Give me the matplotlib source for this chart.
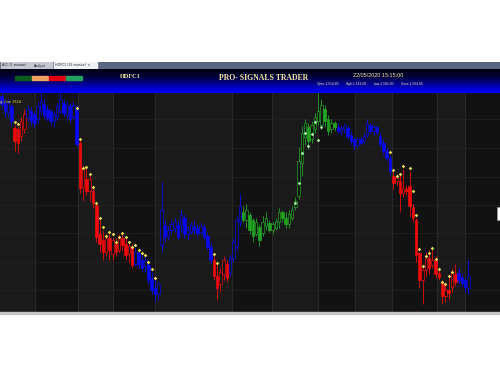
import numpy as np
import matplotlib
matplotlib.use("Agg")
import matplotlib.pyplot as plt
from matplotlib.colors import LinearSegmentedColormap
from matplotlib.patches import Rectangle

# HDFC1 15分足 ローソク足データ
opens = [1618.5, 1615, 1610, 1613.5,
         1602.5, 1602, 1598.5, 1602,
         1608, 1611, 1609.5, 1607, 1611, 1614.5, 1612, 1611, 1606, 1608, 1611, 1615, 1609, 1613.5, 1608, 1612.5,
         1595, 1573, 1577, 1571, 1571, 1563.5, 1549, 1546, 1540, 1547, 1539, 1545, 1541, 1547, 1544, 1539, 1542.5,
         1534, 1539.5, 1536, 1533, 1533.5, 1527, 1522, 1519, 1543.5, 1553.5, 1548, 1551, 1552, 1553.5, 1553.5,
         1557, 1549, 1550, 1553, 1552, 1550, 1552.5, 1548, 1542.5,
         1536, 1528, 1524, 1529, 1534,
         1530, 1537, 1543, 1555,
         1560, 1556, 1558.5, 1556, 1549, 1552.5, 1549.5, 1553, 1554.5, 1551, 1552, 1555, 1560, 1557, 1554, 1557,
         1562.5, 1568.5, 1585, 1598, 1603, 1597, 1602, 1606, 1604, 1612, 1607, 1602, 1605,
         1603, 1601, 1602, 1602.5, 1599, 1597, 1594, 1597, 1596, 1599, 1604, 1601, 1603, 1598.5, 1595, 1591, 1587.5,
         1578.5, 1576, 1576, 1570, 1572, 1573.5, 1562.5, 1556, 1539.5, 1526, 1531, 1537, 1533.5, 1536, 1529.5,
         1524.5, 1518, 1521, 1522.5, 1529,
         1529.5, 1527.5, 1526, 1522]
closes = [1614.5, 1611, 1615, 1606,
          1596, 1595, 1606, 1609.5,
          1612, 1606, 1605, 1613.5, 1616, 1609, 1607.5, 1606, 1609.5, 1613.5, 1617, 1610, 1614, 1607, 1614, 1594.5,
          1572.5, 1582, 1571, 1577, 1564.5, 1547.5, 1544, 1540, 1547, 1541, 1546, 1540, 1547, 1543.5, 1538.5, 1543, 1533.5,
          1540, 1534, 1532, 1536, 1526, 1521, 1519, 1524, 1561, 1547.5, 1551, 1554, 1555, 1547.5, 1558.5,
          1549, 1551, 1553.5, 1551, 1549.5, 1553, 1547.5, 1542.5, 1536,
          1528, 1522, 1530, 1536, 1527,
          1537, 1545, 1556, 1563,
          1556, 1561, 1551, 1548, 1555, 1546, 1555, 1557, 1551, 1554, 1555.5, 1560, 1557, 1554, 1559, 1561,
          1566, 1586, 1600, 1605, 1596, 1604, 1608, 1611, 1614, 1606, 1601, 1605, 1603,
          1601, 1602.5, 1603.5, 1598.5, 1596, 1594, 1597, 1595, 1598.5, 1604.5, 1601, 1603, 1600.5, 1594.5, 1591, 1587.5, 1581,
          1575, 1577.5, 1570, 1572.5, 1571, 1563, 1557, 1538.5, 1526, 1531, 1537, 1532, 1536, 1529, 1527.5,
          1518, 1521, 1519.5, 1529.5, 1525,
          1526, 1524.5, 1522.5, 1528]
highs = [1620, 1617.5, 1617, 1615,
         1604, 1603, 1608, 1612,
         1614, 1613, 1611, 1616, 1620, 1617, 1614, 1612, 1611, 1615, 1620, 1617, 1616, 1615, 1616, 1614,
         1597, 1584, 1583, 1580, 1573, 1565, 1557, 1551, 1549, 1550, 1547, 1547, 1549, 1550, 1547, 1545, 1544,
         1542, 1541, 1539, 1538, 1535, 1530, 1527, 1525, 1575.5, 1556, 1553, 1556, 1557, 1556, 1561,
         1559, 1553, 1555, 1556, 1554, 1555, 1554, 1550, 1545,
         1538, 1534.5, 1532, 1538, 1536,
         1539, 1547, 1558, 1569.5,
         1563, 1564, 1560, 1557, 1557, 1554, 1558, 1560, 1556, 1555, 1557, 1562, 1561, 1560, 1561, 1563,
         1568, 1593, 1603.5, 1607, 1605, 1606, 1610, 1620, 1617, 1614, 1609, 1607, 1606,
         1605, 1604, 1605, 1604, 1601, 1598, 1598, 1598, 1600, 1607, 1605, 1604, 1604, 1600, 1597, 1593, 1589,
         1581, 1579, 1579, 1582, 1574, 1581, 1564, 1557, 1540, 1533, 1540, 1541, 1542, 1538, 1532,
         1526, 1524, 1528, 1532, 1534,
         1532, 1529, 1527, 1536]
lows = [1612, 1608, 1608, 1604,
        1591, 1590, 1596, 1600,
        1606, 1604, 1603, 1605, 1609, 1607, 1606, 1604, 1603, 1606, 1610, 1608, 1607, 1605, 1607, 1593,
        1570, 1566, 1569, 1566, 1562, 1545, 1540, 1536, 1538, 1536, 1536, 1538, 1540, 1541, 1536, 1535, 1532,
        1533, 1532, 1530, 1530, 1524, 1519, 1515, 1516, 1540, 1545, 1546, 1549, 1550, 1546, 1550,
        1547, 1546, 1549, 1549, 1548, 1549, 1546, 1541, 1534,
        1526, 1516, 1520, 1526, 1525,
        1528, 1535, 1541, 1553,
        1555, 1552, 1549, 1545, 1548, 1543, 1548, 1551, 1550, 1549, 1551, 1552, 1555, 1552, 1552, 1556,
        1561, 1567, 1578.5, 1594, 1592, 1595, 1600, 1604, 1602, 1603, 1599, 1600, 1601,
        1600, 1599, 1600, 1597, 1594, 1592, 1593, 1594, 1595, 1598, 1600, 1599, 1599, 1593, 1589, 1586, 1579,
        1572, 1574, 1560, 1568, 1569, 1558, 1555, 1535, 1522, 1514, 1528, 1529, 1532, 1527, 1526,
        1514, 1515, 1516, 1520, 1523,
        1524, 1523, 1520, 1519]

# トレンド区間（B=青, R=赤, G=緑）
seg_trend = ["B", "R", "B", "R", "B", "R", "B", "G", "B", "R", "B"]
seg_len = [4, 4, 16, 17, 24, 5, 4, 29, 17, 20, 4]

# 黄色シグナル点
sig_idx = [5, 6, 24, 25, 26, 27, 28, 29, 30, 31, 32, 33, 34, 35, 36, 37, 38, 39, 40, 41,
           42, 43, 44, 45, 46, 47, 48, 66, 67,
           120, 121, 122, 123, 124, 126, 127, 128, 129, 130, 131, 132, 133, 134, 135, 136, 137, 138, 139]
sig_lvl = [1605.5, 1604.5, 1612.5, 1597, 1582.5, 1583, 1579.5, 1573, 1565, 1557, 1552.5, 1548, 1550, 1549,
           1545, 1547.5, 1549.5, 1547.5, 1545, 1542.5,
           1543.5, 1541, 1539.5, 1538.5, 1535, 1531.5, 1527, 1539, 1534.5,
           1590.5, 1581.5, 1578.5, 1579.5, 1583.5, 1582.5, 1571, 1558.5, 1541.5, 1533, 1538, 1539.5, 1542,
           1536.5, 1531.5, 1525, 1524, 1528, 1530]
# 緑シグナル点
grn_idx = [91, 92, 93, 94, 95, 96, 97, 98, 99]
grn_lvl = [1565, 1575, 1590, 1600, 1593.5, 1599.5, 1605.5, 1596.5, 1603]

# セッション区切り・グリッド
sessions = [0.5, 11.2, 24.4, 35.1, 48, 71.6, 83.8, 97.9, 109.3, 120.6, 134.4, 143, 153.7]
grid_lvls = [1607, 1592.5, 1578, 1563.5, 1549.5, 1535, 1521]

colors = {"B": "#0a0af2", "R": "#f00a0a", "G": "#22a422"}

W, H = 500, 375
fig = plt.figure(figsize=(5, 3.75), dpi=100)
fig.patch.set_facecolor("white")

def fx(x):
    return x / W

def fy(y):
    return 1 - y / H

# タブバー
ax_tab = fig.add_axes([0, fy(69), 1, 7 / H])
ax_tab.set_xlim(0, W)
ax_tab.set_ylim(0, 7)
ax_tab.axis("off")
ax_tab.add_patch(Rectangle((0, 0), W, 7, color="#5a6680"))
for x0, x1, c, t in [(0, 32, "#c3c8d2", "ACC (1 minute)"), (32, 52, "#c3c8d2", "Analyst"),
                     (53, 97, "#eef1f5", "HDFC1 (15 minute)  x")]:
    ax_tab.add_patch(Rectangle((x0 + 0.5, 0.5), x1 - x0 - 1, 6, color=c))
    ax_tab.text(x0 + 2, 3.5, t, fontsize=2.3, va="center", color="#222222")

# ヘッダー（グラデーション）
ax_hd = fig.add_axes([0, fy(93), 1, 24 / H])
cmap = LinearSegmentedColormap.from_list("hd", ["#000010", "#00003a", "#0000a0", "#0000ff"])
ax_hd.imshow(np.linspace(0, 1, 40).reshape(-1, 1), aspect="auto", cmap=cmap,
             extent=[0, W, 93, 69])
ax_hd.set_xlim(0, W)
ax_hd.set_ylim(93, 69)
ax_hd.axis("off")

for x0, c in [(15, "#0b5c1c"), (32, "#f0a060"), (49, "#e00010"), (66, "#22a062")]:
    fig.patches.append(Rectangle((fx(x0), fy(80)), 16 / W, 4.5 / H, color=c,
                                 transform=fig.transFigure, zorder=5))
fig.text(fx(130), fy(77), "HDFC1", family="Liberation Serif", weight="bold",
         fontsize=4.6, color="#f2e6a0", ha="center", va="center", zorder=6)
fig.text(fx(264), fy(77.5), "PRO- SIGNALS TRADER", family="Liberation Serif", weight="bold",
         fontsize=5.6, color="#f2e6a0", ha="center", va="center", zorder=6)
fig.text(fx(378), fy(75.5), "22/05/2020 15:15:00", family="Liberation Sans",
         fontsize=4.0, color="#f2e6a0", ha="center", va="center", zorder=6)
for xc, t in [(328, "Open:1,514.83"), (356, "High:1,519.00"), (384, "Low:1,502.00"), (412, "Close:1,504.05")]:
    fig.text(fx(xc), fy(83.5), t, family="Liberation Sans", fontsize=2.4,
             color="#e8e0c0", ha="center", va="center", zorder=6)

# メインチャート
ax = fig.add_axes([0, fy(312), 1, 219 / H])
ax.set_facecolor("#151515")
for i in range(len(sessions) - 1):
    shade = "#1a1a1a" if i % 2 == 0 else "#121212"
    ax.axvspan(sessions[i], sessions[i + 1], color=shade, lw=0, zorder=0)
for s in sessions[1:-1]:
    ax.axvline(s, color="#2e2e2e", lw=0.6, zorder=1)
for g in grid_lvls:
    ax.axhline(g, color="#242424", lw=0.5, zorder=1)

o = np.array(opens)
c = np.array(closes)
h = np.array(highs)
l = np.array(lows)
idx = np.arange(1, len(o) + 1)
trend = np.repeat(seg_trend, seg_len)
cols = [colors[t] for t in trend]
up = c > o

ax.vlines(idx, l, h, colors=cols, lw=0.6, zorder=2)
body_lo = np.minimum(o, c)
body_h = np.maximum(np.abs(c - o), 0.4)
face = ["#141414" if u else col for u, col in zip(up, cols)]
ax.bar(idx, body_h, bottom=body_lo, width=0.78, color=face, edgecolor=cols,
       linewidth=0.5, zorder=3)

ax.plot(sig_idx, sig_lvl, "D", ms=1.8, color="#f2e25a", mec="none", zorder=4)
ax.plot(grn_idx, grn_lvl, "D", ms=1.8, color="#a4f0a4", mec="none", zorder=4)

ax.text(0.5, 1615.5, "g Line 1516", fontsize=2.6, color="#f2e25a", va="center", zorder=5)

ax.set_xlim(0.5, 153.7)
ax.set_ylim(1510, 1620)
ax.set_xticks([])
ax.set_yticks([])
for sp in ax.spines.values():
    sp.set_visible(False)

# 下端の線と右端のボックス
fig.patches.append(Rectangle((0, fy(313.5)), 1, 1.8 / H, color="#c4c4c4",
                             transform=fig.transFigure, zorder=5))
fig.patches.append(Rectangle((fx(496.5), fy(220)), 4 / W, 13 / H, facecolor="white",
                             edgecolor="#999999", lw=0.5, transform=fig.transFigure, zorder=6))

plt.savefig("out.png", dpi=100)
